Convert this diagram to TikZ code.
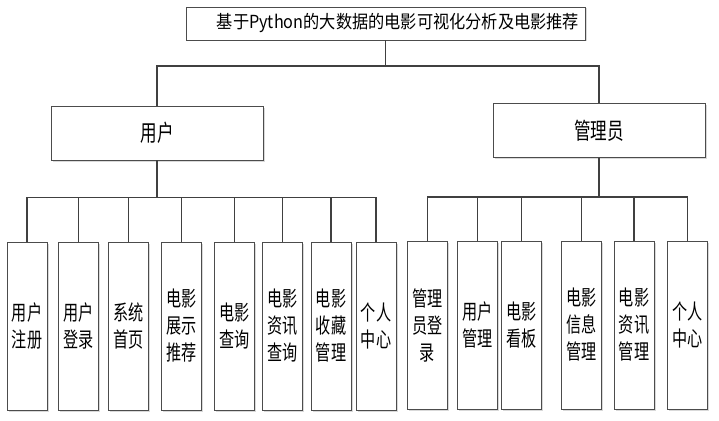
\documentclass[tikz,border=0pt]{standalone}
\usepackage{fontspec}
\newfontfamily\cjk[FakeStretch=0.72]{Noto Sans CJK SC}
\newfontfamily\cjkhead[FakeStretch=0.9]{Noto Sans CJK SC}
\usepackage{tikz}
\usetikzlibrary{shadows}

\begin{document}
\begin{tikzpicture}[
  x=1pt,y=-1pt,
  box/.style={draw=black!70,line width=0.9pt,fill=white,inner sep=0pt,
    drop shadow={shadow xshift=1.5pt,shadow yshift=-1.5pt,fill=black!15,opacity=1}},
  head/.style={box,minimum width=399pt,minimum height=33pt,text width=387pt,align=right,
    font=\cjkhead\fontsize{18}{20}\selectfont},
  role/.style={box,minimum width=212pt,minimum height=54pt,font=\cjk\fontsize{23}{25}\selectfont},
  leaf/.style={box,minimum width=40pt,minimum height=168pt,align=center,
    font=\cjk\fontsize{21}{27}\selectfont},
  link/.style={draw=black!75,line width=1.6pt}
]
\useasboundingbox (0,0) rectangle (719,420);

\node[head] (title) at (385.5,23.5) {基于Python的大数据的电影可视化分析及电影推荐};
\node[role] (user) at (157,133) {用户};
\node[role] (admin) at (599,130.5) {管理员};

% user side
\node[leaf] (u1) at (27,326) {用户\\注册};
\node[leaf] (u2) at (78.5,326) {用户\\登录};
\node[leaf] (u3) at (128.5,326) {系统\\首页};
\node[leaf] (u4) at (181.5,326) {电影\\展示\\推荐};
\node[leaf] (u5) at (234.5,326) {电影\\查询};
\node[leaf] (u6) at (282.5,326) {电影\\资讯\\查询};
\node[leaf] (u7) at (331,326) {电影\\收藏\\管理};
\node[leaf] (u8) at (376,326) {个人\\中心};

% admin side
\node[leaf] (a1) at (427.5,325) {管理\\员登\\录};
\node[leaf] (a2) at (477.5,325) {用户\\管理};
\node[leaf] (a3) at (521.5,325) {电影\\看板};
\node[leaf] (a4) at (581.5,325) {电影\\信息\\管理};
\node[leaf] (a5) at (634,325) {电影\\资讯\\管理};
\node[leaf] (a6) at (687.5,325) {个人\\中心};

\coordinate (j0) at (385.5,66);
\coordinate (j1) at (157,197.5);
\coordinate (j2) at (599,197);

\draw[link] (title) -- (j0);
\draw[link] (j0) -| (user);
\draw[link] (j0) -| (admin);

\draw[link] (user) -- (j1);
\draw[link] (j1) -| (u1);
\draw[link] (j1) -| (u2);
\draw[link] (j1) -| (u3);
\draw[link] (j1) -| (u4);
\draw[link] (j1) -| (u5);
\draw[link] (j1) -| (u6);
\draw[link] (j1) -| (u7);
\draw[link] (j1) -| (u8);

\draw[link] (admin) -- (j2);
\draw[link] (j2) -| (a1);
\draw[link] (j2) -| (a2);
\draw[link] (j2) -| (a3);
\draw[link] (j2) -| (a4);
\draw[link] (j2) -| (a5);
\draw[link] (j2) -| (a6);
\end{tikzpicture}
\end{document}
